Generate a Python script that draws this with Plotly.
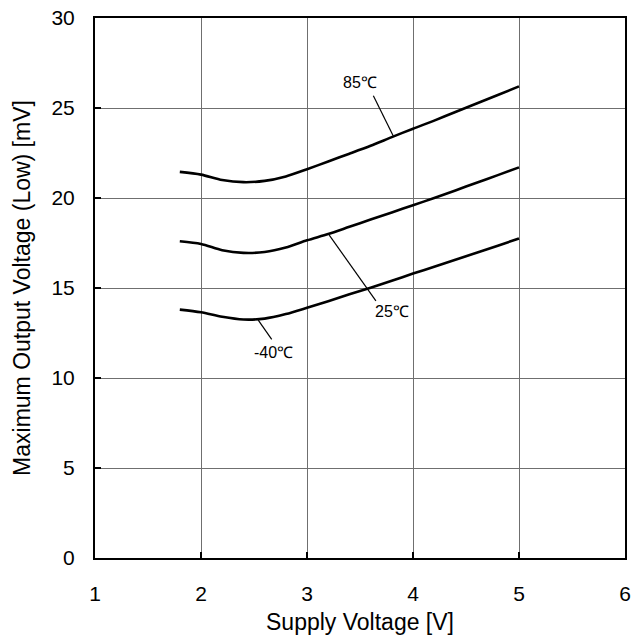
import plotly.graph_objects as go

supply_v = [1.8, 2.0, 2.2, 2.4, 2.6, 2.8, 3.0, 3.2, 3.4, 3.6, 3.8, 4.0, 4.2, 4.4, 4.6, 4.8, 5.0]
vout_85 = [21.45, 21.3, 21.0, 20.88, 20.95, 21.2, 21.6, 22.03, 22.46, 22.9, 23.38, 23.85, 24.3, 24.78, 25.25, 25.72, 26.2]
vout_25 = [17.6, 17.45, 17.1, 16.95, 17.0, 17.25, 17.65, 18.0, 18.4, 18.8, 19.2, 19.6, 20.0, 20.42, 20.85, 21.27, 21.7]
vout_m40 = [13.8, 13.65, 13.4, 13.25, 13.3, 13.55, 13.9, 14.27, 14.65, 15.02, 15.4, 15.8, 16.18, 16.57, 16.96, 17.35, 17.75]

labels = ["85℃", "25℃", "-40℃"]
# label text position and leader line (start on curve, end near text)
label_xy = [(3.5, 26.44), (3.80, 13.67), (2.68, 11.44)]
leader = [((3.626, 25.68), (3.814, 23.44)),
          ((3.21, 17.94), (3.65, 14.28)),
          ((2.54, 13.22), (2.667, 12.15))]

FONT = "Liberation Sans, Arial, sans-serif"

fig = go.Figure()
for ys in (vout_85, vout_25, vout_m40):
    fig.add_trace(go.Scatter(x=supply_v, y=ys, mode="lines",
                             line=dict(color="black", width=2.6, shape="spline", smoothing=0.8),
                             showlegend=False, hoverinfo="skip"))

for (lx, ly), txt in zip(label_xy, labels):
    fig.add_annotation(x=lx, y=ly, text=txt, showarrow=False,
                       font=dict(family=FONT, size=16, color="black"))
for (p0, p1) in leader:
    fig.add_shape(type="line", x0=p0[0], y0=p0[1], x1=p1[0], y1=p1[1],
                  line=dict(color="black", width=1.2))

axis_common = dict(showline=True, linecolor="black", linewidth=2, mirror=True,
                   showgrid=True, gridcolor="#6f6f6f", gridwidth=1,
                   ticks="inside", ticklen=6, tickcolor="black", tickwidth=2,
                   zeroline=False, ticklabeloverflow="allow", automargin=False,
                   tickfont=dict(family=FONT, size=21, color="black"),
                   title_font=dict(family=FONT, size=23, color="black"))

fig.update_xaxes(range=[1, 6], dtick=1, title_text="Supply Voltage [V]", title_standoff=10,
                 ticklabelstandoff=16, **axis_common)
fig.update_yaxes(range=[0, 30], dtick=5, title_text="Maximum Output Voltage (Low) [mV]", title_standoff=14,
                 ticklabelstandoff=14, **axis_common)

# plot area at x 95..625, y 18..558
fig.update_layout(width=642, height=642, margin=dict(l=95, r=17, t=18, b=84),
                  plot_bgcolor="white", paper_bgcolor="white",
                  font=dict(family=FONT, color="black"))

fig.write_html("out.html", config={"displayModeBar": False},
               post_script="document.body.style.margin='0';document.body.style.overflow='hidden';")
